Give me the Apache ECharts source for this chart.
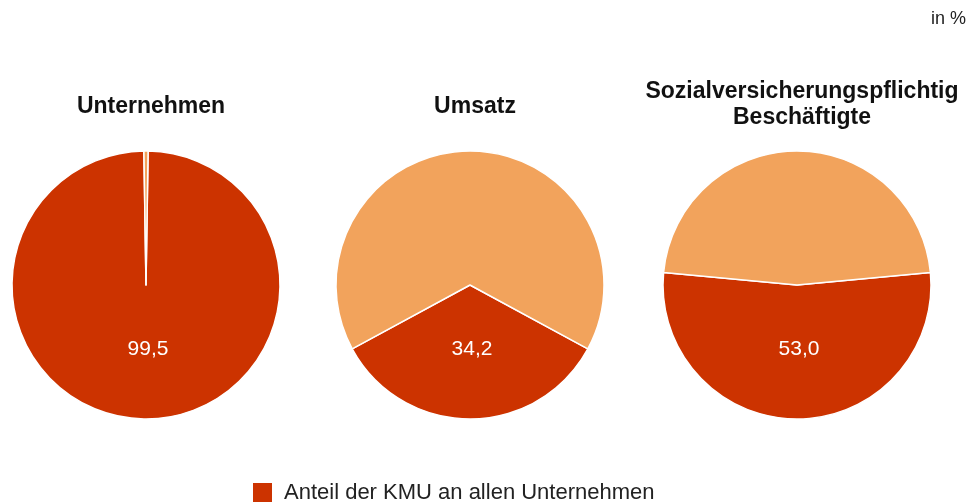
<!DOCTYPE html>
<html><head><meta charset="utf-8">
<script src="https://cdn.jsdelivr.net/npm/echarts@6/dist/echarts.min.js"></script>
<style>html,body{margin:0;padding:0;background:#fff}#c{width:975px;height:503px}</style>
</head><body><div id="c"></div>
<script>
const titles = ['Unternehmen', 'Umsatz', 'Sozialversicherungspflichtig\nBeschäftigte'];
const kmuShare = [99.5, 34.2, 53.0];
const legendName = 'Anteil der KMU an allen Unternehmen';
const otherName = 'Übrige Unternehmen';
const unitLabel = 'in %';

const centersX = [146, 470, 797];
const centerY = 285;
const radius = 134;
const dark = '#cc3300';
const light = '#f2a35c';
const FONT = '"Liberation Sans", Arial, sans-serif';

const chart = echarts.init(document.getElementById('c'), null, {renderer: 'canvas'});
const fmt = v => v.toFixed(1).replace('.', ',');

const series = kmuShare.map((v, i) => ({
  type: 'pie',
  center: [centersX[i], centerY],
  radius: [0, radius],
  startAngle: -90 + v * 3.6 / 2,
  clockwise: true,
  silent: true,
  animation: false,
  itemStyle: {borderColor: '#ffffff', borderWidth: 1.5},
  label: {show: false},
  labelLine: {show: false},
  data: [
    {name: legendName, value: v, itemStyle: {color: dark},
     label: {show: true, position: 'inside', formatter: () => fmt(v), color: '#ffffff',
             fontSize: 21, fontFamily: FONT, offset: [2, -6]}},
    {name: otherName, value: +(100 - v).toFixed(1), itemStyle: {color: light}}
  ]
}));

const titleObjs = titles.map((t, i) => ({
  text: t,
  left: centersX[i],
  top: i === 2 ? 74 : 89,
  textAlign: 'center',
  textStyle: {fontSize: 23, fontWeight: 'bold', color: '#111', fontFamily: FONT, lineHeight: 26}
}));
titleObjs.push({
  text: unitLabel, right: 4, top: 5,
  textStyle: {fontSize: 18, fontWeight: 'normal', color: '#222', fontFamily: FONT}
});

chart.setOption({
  animation: false,
  title: titleObjs,
  legend: {
    data: [legendName],
    left: 246, top: 476,
    itemWidth: 21, itemHeight: 21, itemGap: 10,
    icon: 'rect',
    selectedMode: false,
    textStyle: {fontSize: 22, color: '#222', fontFamily: FONT, padding: [0, 0, 0, 6]}
  },
  series: series
});
</script></body></html>
